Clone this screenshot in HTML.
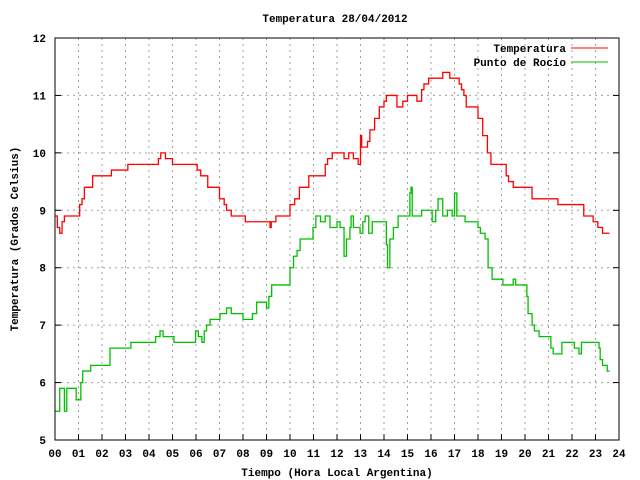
<!DOCTYPE html>
<html><head><meta charset="utf-8"><style>
html,body{margin:0;padding:0;background:#fff;}
svg{display:block;font-family:"Liberation Mono",monospace;font-size:11px;font-weight:bold;}
</style></head><body>
<svg id="chart" width="640" height="480">
<text x="335" y="22" text-anchor="middle">Temperatura 28/04/2012</text>
<text x="337" y="476" text-anchor="middle">Tiempo (Hora Local Argentina)</text>
<text transform="translate(18,239) rotate(-90)" text-anchor="middle">Temperatura (Grados Celsius)</text>
<g id="grid"></g><g id="ticks"></g><g id="series"></g>
<rect x="55" y="38" width="564" height="402" fill="none" stroke="#000" stroke-width="1"/>
<g>
<text x="566" y="52" text-anchor="end">Temperatura</text>
<line x1="571" y1="48" x2="608" y2="48" stroke="#f00" stroke-width="1"/>
<text x="566" y="66" text-anchor="end">Punto de Rocío</text>
<line x1="571" y1="62" x2="608" y2="62" stroke="#00c000" stroke-width="1"/>
</g>
</svg>
<script>
const xTicks=["00","01","02","03","04","05","06","07","08","09","10","11","12","13","14","15","16","17","18","19","20","21","22","23","24"];
const yTicks=[5,6,7,8,9,10,11,12];
const tempHours=[0,0.1,0.2,0.3,0.4,1.05,1.15,1.25,1.6,2.4,3.1,4.4,4.5,4.7,5.0,6.05,6.2,6.5,7.0,7.2,7.3,7.5,8.1,9.15,9.2,9.4,10.0,10.2,10.4,10.8,11.5,11.6,11.8,12.3,12.5,12.7,12.9,13.0,13.05,13.3,13.4,13.6,13.8,14.0,14.1,14.5,14.55,14.8,15.0,15.4,15.6,15.7,15.9,16.5,16.8,17.2,17.3,17.4,17.5,18.0,18.2,18.4,18.55,19.2,19.3,19.5,20.3,20.6,21.4,22.5,22.9,23.1,23.3,23.6];
const tempValues=[8.9,8.7,8.6,8.8,8.9,9.1,9.2,9.4,9.6,9.7,9.8,9.9,10.0,9.9,9.8,9.7,9.6,9.4,9.2,9.1,9.0,8.9,8.8,8.7,8.8,8.9,9.1,9.2,9.4,9.6,9.8,9.9,10.0,9.9,10.0,9.9,9.8,10.3,10.1,10.2,10.4,10.6,10.8,10.9,11.0,11.0,10.8,10.9,11.0,10.9,11.1,11.2,11.3,11.4,11.3,11.2,11.1,11.0,10.8,10.6,10.3,10.0,9.8,9.6,9.5,9.4,9.2,9.2,9.1,8.9,8.8,8.7,8.6,8.6];
const dewHours=[0,0.2,0.4,0.5,0.9,1.1,1.18,1.52,2.34,3.23,4.28,4.47,4.6,5.06,5.98,6.1,6.25,6.35,6.45,6.6,7.02,7.3,7.5,8.0,8.4,8.58,9.0,9.1,9.22,10.0,10.15,10.3,10.43,10.98,11.1,11.3,11.5,11.7,12.0,12.13,12.3,12.4,12.55,12.6,12.7,12.98,13.1,13.2,13.35,13.5,13.6,14.04,14.1,14.15,14.25,14.4,14.6,15.1,15.15,15.2,15.6,16.05,16.2,16.3,16.5,16.7,16.9,17.0,17.1,17.45,18.0,18.1,18.3,18.43,18.6,19.06,19.5,19.6,20.08,20.13,20.3,20.4,20.6,21.1,21.2,21.57,22.1,22.3,22.4,23.15,23.2,23.3,23.5,23.6];
const dewValues=[5.5,5.9,5.5,5.9,5.7,6.0,6.2,6.3,6.6,6.7,6.8,6.9,6.8,6.7,6.9,6.8,6.7,6.9,7.0,7.1,7.2,7.3,7.2,7.1,7.2,7.4,7.3,7.5,7.7,8.0,8.2,8.3,8.5,8.7,8.9,8.8,8.9,8.7,8.8,8.7,8.2,8.5,8.7,8.9,8.7,8.6,8.8,8.9,8.6,8.8,8.8,8.8,8.4,8.0,8.5,8.7,8.9,9.3,9.4,8.9,9.0,8.8,9.0,9.2,8.9,9.0,8.9,9.3,8.9,8.8,8.7,8.6,8.5,8.0,7.8,7.7,7.8,7.7,7.5,7.2,7.0,6.9,6.8,6.6,6.5,6.7,6.6,6.5,6.7,6.6,6.4,6.3,6.2,6.2];
const NS="http://www.w3.org/2000/svg";
const X0=55,X1=619,Y0=440,Y1=38;
function xs(h){return X0+(h/24)*(X1-X0);}
function ys(v){return Y0-(v-5)/7*(Y0-Y1);}
function mk(tag,attrs,parent){const e=document.createElementNS(NS,tag);for(const k in attrs)e.setAttribute(k,attrs[k]);parent.appendChild(e);return e;}
const grid=document.getElementById('grid'),ticks=document.getElementById('ticks'),series=document.getElementById('series');
xTicks.forEach((t,i)=>{
  const x=xs(i);
  if(i>0&&i<24){const g=mk('line',{x1:x,y1:Y1,x2:x,y2:Y0,stroke:'#a0a0a0','stroke-dasharray':'2,4'},grid);
  
  }
  const tl=mk('line',{x1:x,y1:Y0,x2:x,y2:Y0-6,stroke:'#000'},ticks);
  
  
  const tx=mk('text',{x:x,y:457,'text-anchor':'middle'},ticks);tx.textContent=t;
  
  
});
yTicks.forEach(v=>{
  const y=ys(v);
  if(v>5&&v<12){const g=mk('line',{x1:X0,y1:y,x2:X1,y2:y,stroke:'#a0a0a0','stroke-dasharray':'2,4'},grid);
  
  }
  const tl=mk('line',{x1:X0,y1:y,x2:X0+6,y2:y,stroke:'#000'},ticks);
  
  
  const tr=mk('line',{x1:X1,y1:y,x2:X1-6,y2:y,stroke:'#000'},ticks);
  
  
  const tx=mk('text',{x:46,y:y+4,'text-anchor':'end'},ticks);tx.textContent=v;
  
  
});
function stepPath(hs,vs){let d='M'+xs(hs[0])+','+ys(vs[0]);for(let i=1;i<hs.length;i++){d+=' L'+xs(hs[i])+','+ys(vs[i-1])+' L'+xs(hs[i])+','+ys(vs[i]);}return d;}
const pt=mk('path',{d:stepPath(tempHours,tempValues),fill:'none',stroke:'#f00','stroke-width':1.3},series);


const pd=mk('path',{d:stepPath(dewHours,dewValues),fill:'none',stroke:'#00c000','stroke-width':1.3},series);


</script>
</body></html>
